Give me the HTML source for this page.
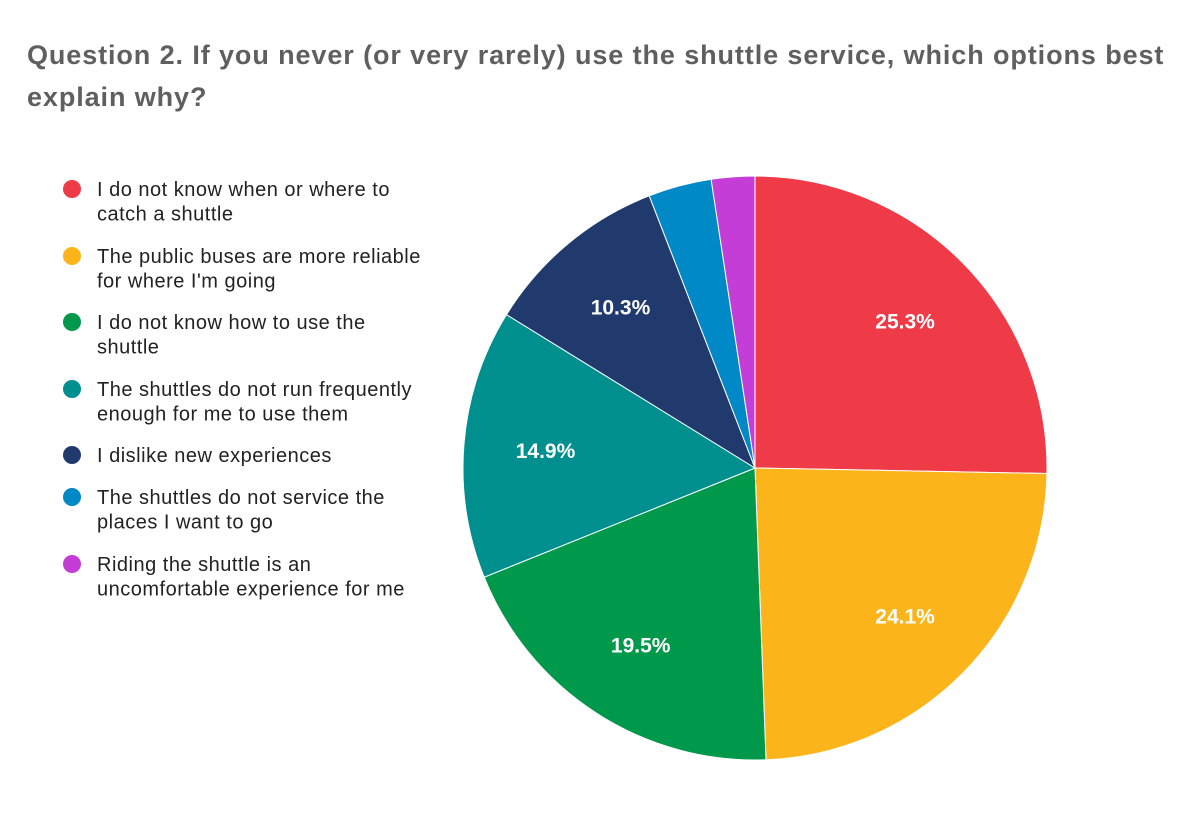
<!DOCTYPE html>
<html><head><meta charset="utf-8"><style>
body{margin:0;background:#fff;width:1193px;height:816px;overflow:hidden;font-family:"Liberation Sans",Arial,sans-serif}
</style></head><body>
<svg width="1193" height="816">
<text x="27" y="64" font-size="27" letter-spacing="0.9" font-weight="bold" fill="#5f5f5f">Question 2. If you never (or very rarely) use the shuttle service, which options best</text>
<text x="27" y="106" font-size="27" letter-spacing="0.9" font-weight="bold" fill="#5f5f5f">explain why?</text>
<g id="legend"></g>
<g id="pie"></g>
</svg>
<script>
const categories=[["I do not know when or where to","catch a shuttle"],["The public buses are more reliable","for where I'm going"],["I do not know how to use the","shuttle"],["The shuttles do not run frequently","enough for me to use them"],["I dislike new experiences"],["The shuttles do not service the","places I want to go"],["Riding the shuttle is an","uncomfortable experience for me"]];
const values=[25.3,24.1,19.5,14.9,10.3,3.5,2.4];
const printed=["25.3%","24.1%","19.5%","14.9%","10.3%","",""];
const colors=["#ef3a47","#fbb41a","#00984a","#008f8f","#213a6e","#0089c7","#c33dd6"];
const NS="http://www.w3.org/2000/svg";
const cx=755,cy=468,r=292;
const total=values.reduce((a,b)=>a+b,0);
const pie=document.getElementById('pie'),leg=document.getElementById('legend');
let a=0;
values.forEach((v,i)=>{
 const a0=a,a1=a+v/total*2*Math.PI;a=a1;
 const p=document.createElementNS(NS,'path');
 const x0=cx+r*Math.sin(a0),y0=cy-r*Math.cos(a0),x1=cx+r*Math.sin(a1),y1=cy-r*Math.cos(a1);
 p.setAttribute('d',`M${cx},${cy}L${x0},${y0}A${r},${r} 0 ${a1-a0>Math.PI?1:0} 1 ${x1},${y1}Z`);
 p.setAttribute('fill',colors[i]);p.setAttribute('stroke','#fff');p.setAttribute('stroke-width','1');
 
 
 pie.appendChild(p);
 if(printed[i]){const m=(a0+a1)/2;const t=document.createElementNS(NS,'text');
 t.setAttribute('x',cx+0.72*r*Math.sin(m));t.setAttribute('y',cy-0.72*r*Math.cos(m)+8);
 t.setAttribute('text-anchor','middle');t.setAttribute('font-size','21');t.setAttribute('font-weight','bold');t.setAttribute('fill','#fff');
 t.textContent=printed[i];
 
 
 pie.appendChild(t);}
});
const ys=[189,256,322,389,455,497,564];
categories.forEach((c,i)=>{
 const g=document.createElementNS(NS,'g');
 
 
 const ci=document.createElementNS(NS,'circle');ci.setAttribute('cx',72);ci.setAttribute('cy',ys[i]);ci.setAttribute('r',9);ci.setAttribute('fill',colors[i]);g.appendChild(ci);
 c.forEach((l,j)=>{const t=document.createElementNS(NS,'text');t.setAttribute('x',97);t.setAttribute('y',ys[i]+7+j*24.5);t.setAttribute('font-size','20');t.setAttribute('letter-spacing','0.5');t.setAttribute('fill','#222');t.textContent=l;g.appendChild(t);});
 leg.appendChild(g);
});
</script>
</body></html>
